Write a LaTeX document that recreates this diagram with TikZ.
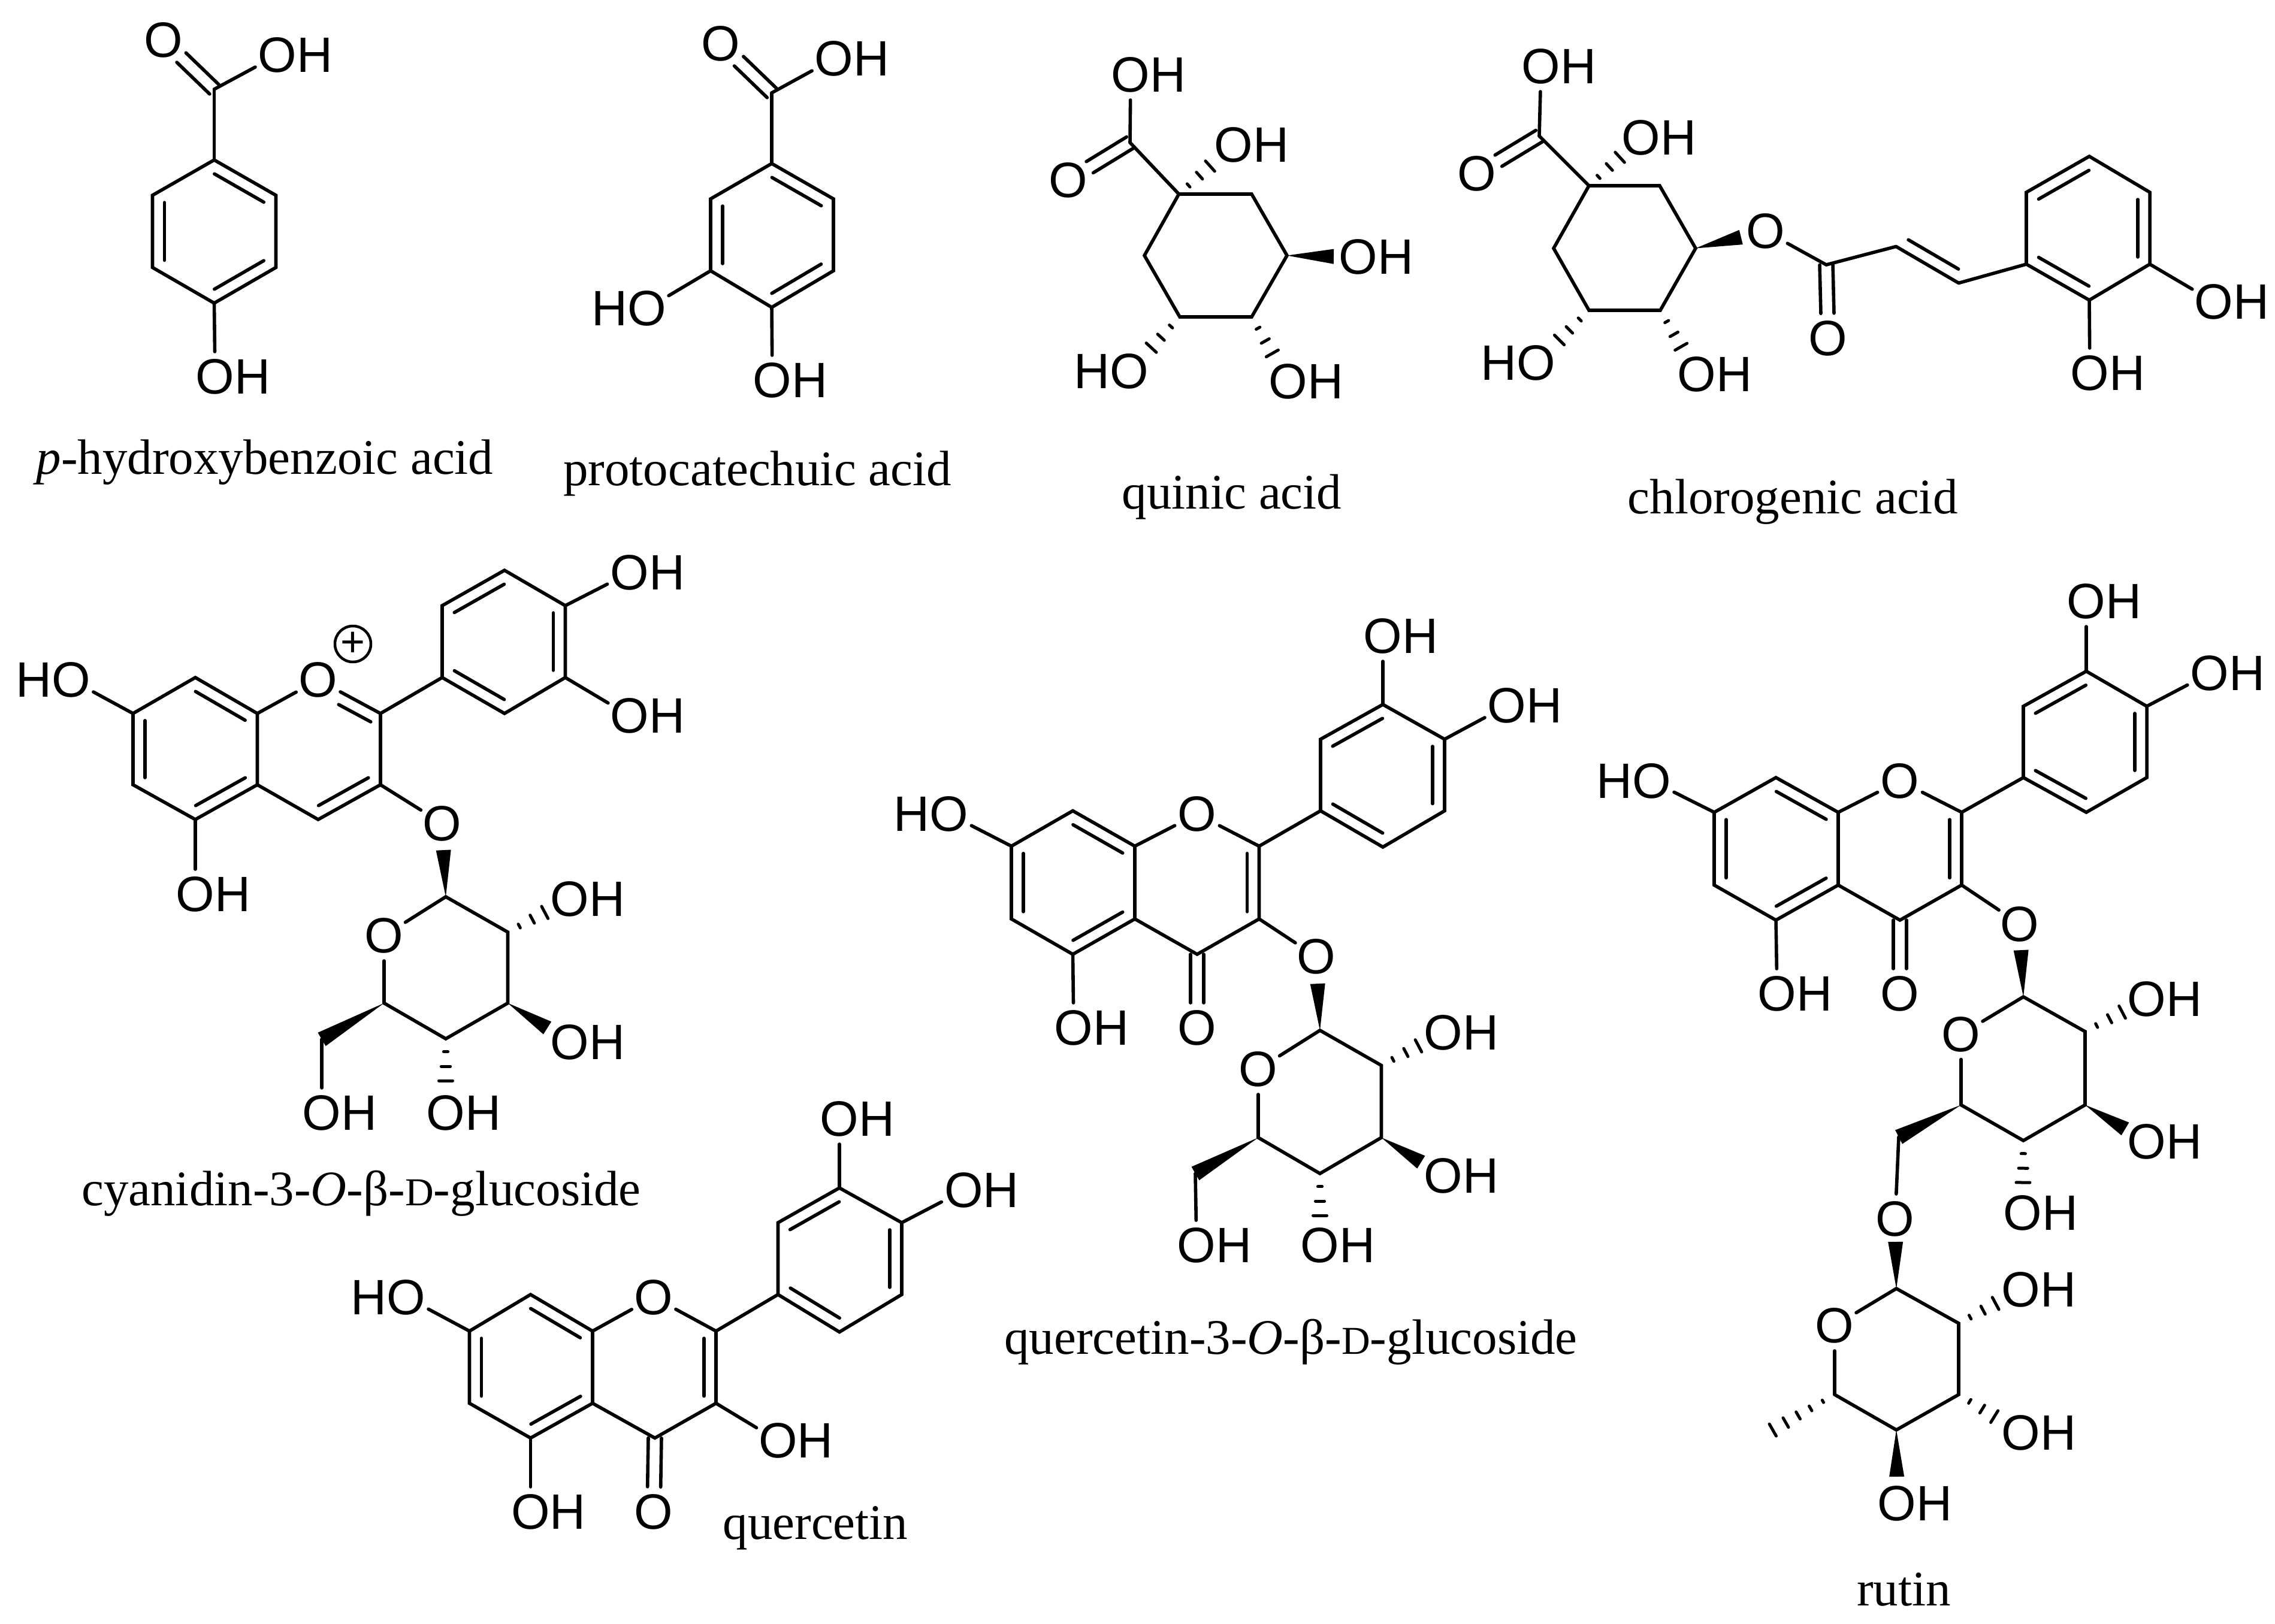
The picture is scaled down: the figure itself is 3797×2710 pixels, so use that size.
\documentclass[tikz,border=0pt]{standalone}
\usepackage{fontspec}
\setmainfont{Liberation Serif}
\newfontfamily\lsans{Liberation Sans}
\usetikzlibrary{calc}
\tikzset{
  bnd/.style={line width=5.6pt,line cap=round,line join=miter,black},
  hsh/.style={line width=5pt,line cap=round,black},
  lab/.style={inner sep=0pt,anchor=center,font=\lsans\fontsize{83}{88}\selectfont,black},
  capt/.style={inner sep=0pt,anchor=base,font=\fontsize{83}{90}\selectfont,black},
  chg/.style={circle,draw,line width=4.5pt,inner sep=0pt,minimum size=60pt,font=\lsans\fontsize{70}{74}\selectfont}
}
\newcommand\smD{{\fontsize{66}{70}\selectfont D}}
% atoms
\newcommand\At[3]{\coordinate (#1) at (#2,#3);}
\newcommand\OHr[3]{\coordinate (#1) at (#2,#3);\node[lab,xshift=30pt] (#1t) at (#1) {OH};}
\newcommand\HOl[3]{\coordinate (#1) at (#2,#3);\node[lab,xshift=-30pt] (#1t) at (#1) {HO};}
\newcommand\Ox[3]{\coordinate (#1) at (#2,#3);\node[lab] (#1t) at (#1) {O};}
% bonds
\newcommand\Bd[2]{\draw[bnd] (#1) -- (#2);}
\newcommand\BdO[2]{\draw[bnd,shorten >=42pt] (#1) -- (#2);}
\newcommand\Dbl[2]{%
  \draw[bnd,shorten >=42pt] ($(#1)!11pt!90:(#2)$) -- ($(#2)!11pt!-90:(#1)$);
  \draw[bnd,shorten >=42pt] ($(#1)!11pt!-90:(#2)$) -- ($(#2)!11pt!90:(#1)$);}
\newcommand\Rd[2]{\draw[bnd] ($(#1)!.1!(#2)!20pt!-90:(#2)$) -- ($(#1)!.9!(#2)!20pt!-90:(#2)$);}
\newcommand\Wdg[2]{%
  \coordinate (wE) at ($(#1)!78pt!(#2)$);
  \fill[black] (#1) -- ($(wE)!12.5pt!90:(#1)$) -- ($(wE)!12.5pt!-90:(#1)$) -- cycle;}
\newcommand\WdgTo[2]{%
  \fill[black] (#1) -- ($(#2)!13pt!90:(#1)$) -- ($(#2)!13pt!-90:(#1)$) -- cycle;}
\newcommand\HshGen[4]{%
  \coordinate (hE) at ($(#3)!#1!(#4)$);
  \foreach \t in {#2}{%
    \pgfmathsetmacro\hw{\t*11.5}
    \draw[hsh] ($(#3)!\t!(hE)!\hw pt!90:(#3)$) -- ($(#3)!\t!(hE)!\hw pt!-90:(#3)$);
  }}
\newcommand\Hsh[2]{\HshGen{70pt}{.31,.66,1}{#1}{#2}}
\begin{document}
\begin{tikzpicture}[x=1pt,y=-1pt]
\useasboundingbox (0,0) rectangle (3797,2710);
\fill[white] (0,0) rectangle (3797,2710);

% ---------- p-hydroxybenzoic acid
\At{aA}{357.5}{267}\At{aB}{460.5}{326}\At{aC}{460.5}{446.5}\At{aD}{357.5}{506}\At{aE}{254.5}{446.5}\At{aF}{254.5}{326}
\At{aK}{357.5}{149}
\OHr{aO1}{463}{92}\Ox{aO2}{272.5}{67}\OHr{aO3}{359}{629}
\draw[bnd] (aA)--(aB)--(aC)--(aD)--(aE)--(aF)--cycle;
\Rd{aA}{aB}\Rd{aC}{aD}\Rd{aE}{aF}
\Bd{aA}{aK}\BdO{aK}{aO1}\Dbl{aK}{aO2}\BdO{aD}{aO3}
\node[capt] (capA) at (442,791) {\textit{p}-hydroxybenzoic acid};

% ---------- protocatechuic acid
\At{bA}{1288}{273}\At{bB}{1391}{332}\At{bC}{1391}{452}\At{bD}{1288}{513}\At{bE}{1186}{452}\At{bF}{1186}{332}
\At{bK}{1288}{155}
\OHr{bO1}{1392}{98}\Ox{bO2}{1203}{73}\OHr{bO3}{1289}{635}\HOl{bO4}{1080}{515}
\draw[bnd] (bA)--(bB)--(bC)--(bD)--(bE)--(bF)--cycle;
\Rd{bA}{bB}\Rd{bC}{bD}\Rd{bE}{bF}
\Bd{bA}{bK}\BdO{bK}{bO1}\Dbl{bK}{bO2}\BdO{bD}{bO3}\BdO{bE}{bO4}
\node[capt] (capB) at (1264,810) {protocatechuic acid};

% ---------- quinic acid
\At{cA}{1967.5}{324}\At{cB}{2089}{324}\At{cC}{2148}{426.5}\At{cD}{2089}{529}\At{cE}{1969}{529}\At{cF}{1910}{426.5}
\At{cK}{1886}{238}
\OHr{cO1}{1887}{125}\Ox{cO2}{1783}{301}\OHr{cO3}{2059}{242}\OHr{cO4}{2267}{429}\OHr{cO5}{2150}{637}\HOl{cO6}{1885}{620}
\draw[bnd] (cA)--(cB)--(cC)--(cD)--(cE)--(cF)--cycle;
\Bd{cA}{cK}\BdO{cK}{cO1}\Dbl{cK}{cO2}
\Hsh{cA}{cO3}\Wdg{cC}{cO4}\Hsh{cD}{cO5}\Hsh{cE}{cO6}
\node[capt] (capC) at (2056,849) {quinic acid};

% ---------- chlorogenic acid
\At{dA}{2652}{310}\At{dB}{2770}{310}\At{dC}{2830}{414.5}\At{dD}{2771}{518}\At{dE}{2652}{518}\At{dF}{2593}{414.5}
\At{dK}{2569}{227}
\OHr{dO1}{2572}{111}\Ox{dO2}{2465}{290}\OHr{dO3}{2739}{230}\Ox{dO4}{2946.5}{386}\OHr{dO5}{2832}{625}\HOl{dO6}{2564}{606}
\At{dL}{3048}{442}\Ox{dO7}{3051}{565}\At{dM}{3164.5}{411.5}\At{dN}{3269}{472.5}
\At{dP}{3382}{441}\At{dQ}{3382}{321}\At{dR}{3487}{261}\At{dS}{3588}{321}\At{dT}{3588}{441}\At{dU}{3487}{501}
\OHr{dO8}{3695}{504}\OHr{dO9}{3488}{623}
\draw[bnd] (dA)--(dB)--(dC)--(dD)--(dE)--(dF)--cycle;
\Bd{dA}{dK}\BdO{dK}{dO1}\Dbl{dK}{dO2}
\Hsh{dA}{dO3}\Wdg{dC}{dO4}\Hsh{dD}{dO5}\Hsh{dE}{dO6}
\BdO{dL}{dO4}\Dbl{dL}{dO7}\Bd{dL}{dM}\Bd{dM}{dN}\Rd{dN}{dM}\Bd{dN}{dP}
\draw[bnd] (dP)--(dQ)--(dR)--(dS)--(dT)--(dU)--cycle;
\Rd{dQ}{dR}\Rd{dS}{dT}\Rd{dU}{dP}
\BdO{dT}{dO8}\BdO{dU}{dO9}
\node[capt] (capD) at (2992,857) {chlorogenic acid};

% ---------- cyanidin-3-O-glucoside
\At{eA}{326}{1131}\At{eB}{429.5}{1191}\At{eC}{429.5}{1310}\At{eD}{326}{1368}\At{eE}{222}{1310}\At{eF}{222}{1191}
\Ox{eO1}{531}{1135}\At{eG}{635}{1191}\At{eH}{635}{1310}\At{eI}{531}{1368}
\node[chg] (ePlus) at (589,1075) {+};
\At{eJ}{738}{1131}\At{eK}{738}{1011}\At{eL}{842}{952}\At{eM}{943.5}{1011}\At{eN}{943.5}{1131}\At{eP}{842}{1191}
\OHr{eO2}{1051}{956}\OHr{eO3}{1051}{1195}\HOl{eO4}{119}{1135}\OHr{eO5}{326}{1493}\Ox{eO6}{738}{1374.5}
\At{eQ}{744}{1497}\At{eR}{847.5}{1556}\At{eS}{847.5}{1674.5}\At{eT}{744}{1734}\At{eU}{641}{1674.5}\Ox{eO7}{641}{1562}\At{eV}{537}{1735}
\OHr{eO8}{951}{1501}\OHr{eO9}{951}{1739.5}\OHr{eO10}{744}{1858}\OHr{eO11}{537}{1858}
\draw[bnd] (eA)--(eB)--(eC)--(eD)--(eE)--(eF)--cycle;
\Rd{eA}{eB}\Rd{eC}{eD}\Rd{eE}{eF}
\BdO{eB}{eO1}\BdO{eG}{eO1}
\coordinate (eOe) at ($(eO1)!42pt!(eG)$);
\Rd{eOe}{eG}
\draw[bnd] (eG)--(eH)--(eI)--(eC);\Rd{eH}{eI}
\Bd{eG}{eJ}
\draw[bnd] (eJ)--(eK)--(eL)--(eM)--(eN)--(eP)--cycle;
\Rd{eK}{eL}\Rd{eM}{eN}\Rd{eP}{eJ}
\BdO{eM}{eO2}\BdO{eN}{eO3}\BdO{eF}{eO4}\BdO{eD}{eO5}\BdO{eH}{eO6}
\draw[bnd] (eQ)--(eR)--(eS)--(eT)--(eU);
\BdO{eQ}{eO7}\BdO{eU}{eO7}
\Wdg{eQ}{eO6}\Hsh{eR}{eO8}\Wdg{eS}{eO9}\Hsh{eT}{eO10}
\WdgTo{eU}{eV}\BdO{eV}{eO11}
\node[capt] (capE) at (603,2012) {cyanidin-3-\textit{O}-β-\smD-glucoside};

% ---------- quercetin-3-O-glucoside
\At{fA}{1790.5}{1353.5}\At{fB}{1894}{1412.5}\At{fC}{1894}{1534}\At{fD}{1790.5}{1593}\At{fE}{1688}{1534}\At{fF}{1688}{1412.5}
\Ox{fO1}{1998}{1359}\At{fG}{2101.5}{1412.5}\At{fH}{2101.5}{1534}\At{fI}{1998}{1593}
\At{fJ}{2204}{1353.5}\At{fK}{2204}{1234}\At{fL}{2308}{1176}\At{fM}{2411}{1234}\At{fN}{2411}{1353.5}\At{fP}{2308}{1414}
\Ox{fO2}{1998}{1716}\HOl{fO3}{1584}{1359}\OHr{fO4}{1792}{1716}\OHr{fO5}{2308}{1062}\OHr{fO6}{2515}{1178}\Ox{fO7}{2197}{1597}
\At{fQ}{2203}{1720}\At{fR}{2305.5}{1778.5}\At{fS}{2305.5}{1899}\At{fT}{2203}{1959}\At{fU}{2100}{1899}\Ox{fO8}{2100}{1785}\At{fV}{1995}{1959}
\OHr{fO9}{2409}{1724}\OHr{fO10}{2409}{1963}\OHr{fO11}{2203}{2079}\OHr{fO12}{1997}{2079}
\draw[bnd] (fA)--(fB)--(fC)--(fD)--(fE)--(fF)--cycle;
\Rd{fA}{fB}\Rd{fC}{fD}\Rd{fE}{fF}
\BdO{fB}{fO1}\BdO{fG}{fO1}
\draw[bnd] (fG)--(fH)--(fI)--(fC);\Rd{fG}{fH}
\Bd{fG}{fJ}
\draw[bnd] (fJ)--(fK)--(fL)--(fM)--(fN)--(fP)--cycle;
\Rd{fK}{fL}\Rd{fM}{fN}\Rd{fP}{fJ}
\Dbl{fI}{fO2}\BdO{fF}{fO3}\BdO{fD}{fO4}\BdO{fL}{fO5}\BdO{fM}{fO6}\BdO{fH}{fO7}
\draw[bnd] (fQ)--(fR)--(fS)--(fT)--(fU);
\BdO{fQ}{fO8}\BdO{fU}{fO8}
\Wdg{fQ}{fO7}\Hsh{fR}{fO9}\Wdg{fS}{fO10}\Hsh{fT}{fO11}
\WdgTo{fU}{fV}\BdO{fV}{fO12}
\node[capt] (capF) at (2154.5,2260) {quercetin-3-\textit{O}-β-\smD-glucoside};

% ---------- rutin
\At{gA}{2964}{1298}\At{gB}{3068}{1356}\At{gC}{3068}{1477.5}\At{gD}{2964}{1536}\At{gE}{2861}{1477.5}\At{gF}{2861}{1356}
\Ox{gO1}{3171}{1303.5}\At{gG}{3274}{1356}\At{gH}{3274}{1477.5}\At{gI}{3171}{1536}
\At{gJ}{3377}{1298}\At{gK}{3377}{1179}\At{gL}{3482}{1120.5}\At{gM}{3583}{1179}\At{gN}{3583}{1298}\At{gP}{3482}{1356}
\Ox{gO2}{3171}{1659}\HOl{gO3}{2756.5}{1303.5}\OHr{gO4}{2966}{1659}\OHr{gO5}{3482}{1004}\OHr{gO6}{3688}{1124}\Ox{gO7}{3371}{1542.5}
\At{gQ}{3377}{1664}\At{gR}{3480}{1722}\At{gS}{3480}{1844.5}\At{gT}{3377}{1904}\At{gU}{3273}{1844.5}\Ox{gO8}{3273}{1726.5}\At{gV}{3169}{1898}
\OHr{gO9}{3583}{1668}\OHr{gO10}{3583}{1906}\OHr{gO11}{3376}{2025}\Ox{gO12}{3163}{2035}
\At{hQ}{3165}{2151}\At{hR}{3269}{2209}\At{hS}{3269}{2328}\At{hT}{3165}{2387}\At{hU}{3062}{2328}\Ox{hO1}{3062}{2213}\At{hV}{2959}{2387}
\OHr{hO2}{3373}{2153}\OHr{hO3}{3373}{2392}\OHr{hO4}{3166}{2510}
\draw[bnd] (gA)--(gB)--(gC)--(gD)--(gE)--(gF)--cycle;
\Rd{gA}{gB}\Rd{gC}{gD}\Rd{gE}{gF}
\BdO{gB}{gO1}\BdO{gG}{gO1}
\draw[bnd] (gG)--(gH)--(gI)--(gC);\Rd{gG}{gH}
\Bd{gG}{gJ}
\draw[bnd] (gJ)--(gK)--(gL)--(gM)--(gN)--(gP)--cycle;
\Rd{gK}{gL}\Rd{gM}{gN}\Rd{gP}{gJ}
\Dbl{gI}{gO2}\BdO{gF}{gO3}\BdO{gD}{gO4}\BdO{gL}{gO5}\BdO{gM}{gO6}\BdO{gH}{gO7}
\draw[bnd] (gQ)--(gR)--(gS)--(gT)--(gU);
\BdO{gQ}{gO8}\BdO{gU}{gO8}
\Wdg{gQ}{gO7}\Hsh{gR}{gO9}\Wdg{gS}{gO10}\Hsh{gT}{gO11}
\WdgTo{gU}{gV}\BdO{gV}{gO12}
\draw[bnd] (hQ)--(hR)--(hS)--(hT)--(hU);
\BdO{hQ}{hO1}\BdO{hU}{hO1}
\Wdg{hQ}{gO12}\Hsh{hR}{hO2}\Hsh{hS}{hO3}\Wdg{hT}{hO4}
\HshGen{119pt}{.19,.39,.59,.79,1}{hU}{hV}
\node[capt] (capG) at (3177.5,2680) {rutin};

% ---------- quercetin
\At{iA}{885.5}{2161}\At{iB}{989}{2222}\At{iC}{989}{2342.5}\At{iD}{885.5}{2400.5}\At{iE}{783.5}{2342.5}\At{iF}{783.5}{2222}
\Ox{iO1}{1091}{2165.5}\At{iG}{1195}{2222}\At{iH}{1195}{2342.5}\At{iI}{1093}{2400.5}
\At{iJ}{1298.5}{2161}\At{iK}{1298.5}{2041}\At{iL}{1401}{1983}\At{iM}{1505}{2041}\At{iN}{1505}{2161}\At{iP}{1401}{2223.5}
\Ox{iO2}{1091}{2524}\HOl{iO3}{678}{2165.5}\OHr{iO4}{885.5}{2524}\OHr{iO5}{1298.5}{2405}\OHr{iO6}{1401}{1868}\OHr{iO7}{1608.5}{1987}
\draw[bnd] (iA)--(iB)--(iC)--(iD)--(iE)--(iF)--cycle;
\Rd{iA}{iB}\Rd{iC}{iD}\Rd{iE}{iF}
\BdO{iB}{iO1}\BdO{iG}{iO1}
\draw[bnd] (iG)--(iH)--(iI)--(iC);\Rd{iG}{iH}
\Bd{iG}{iJ}
\draw[bnd] (iJ)--(iK)--(iL)--(iM)--(iN)--(iP)--cycle;
\Rd{iK}{iL}\Rd{iM}{iN}\Rd{iP}{iJ}
\Dbl{iI}{iO2}\BdO{iF}{iO3}\BdO{iD}{iO4}\BdO{iH}{iO5}\BdO{iL}{iO6}\BdO{iM}{iO7}
\node[capt] (capI) at (1361,2569) {quercetin};
\end{tikzpicture}
\end{document}
